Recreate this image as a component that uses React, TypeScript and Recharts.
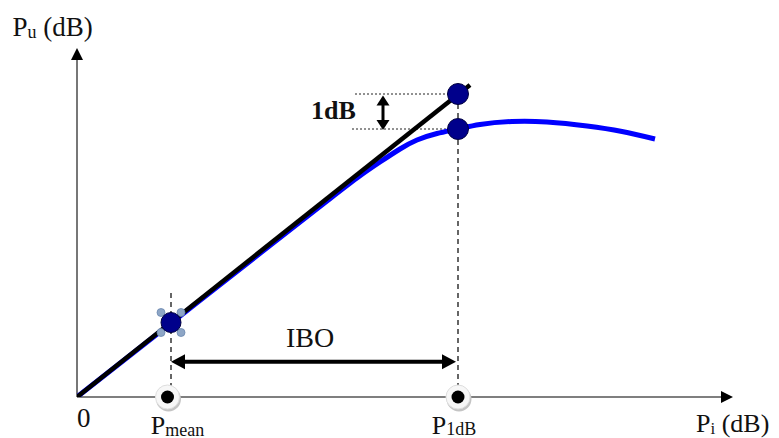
import React from 'react';
import { ComposedChart, Line, XAxis, YAxis, ReferenceLine, ReferenceDot } from 'recharts';

// Blue compression curve (Pi in, Pu out), in the chart's own dB units
const curveX = [0, 10, 20, 25, 28, 30.3, 32.3, 34, 36, 38.1, 40.3, 43.5, 47, 51, 54.5, 57.8];
const curveY = [0, 7.85, 15.7, 19.6, 21.9, 23.5, 24.8, 25.7, 26.35, 26.8, 27.25, 27.55, 27.5, 27.1, 26.55, 25.8];
// Ideal linear gain line
const linearX = [0, 39.3];
const linearY = [0, 31.2];
// Key operating points
const pMeanX = 9.4;
const pMeanY = 7.45;
const p1dBX = 38.1;
const p1dBLinearY = 30.3;
const p1dBActualY = 26.8;
const iboY = 3.53;
const oneDbArrowX = 30.6;
const axisEndX = 65.6;
const axisEndY = 34.9;

const curveData = curveX.map((x, i) => ({ x, y: curveY[i] }));
const linearData = linearX.map((x, i) => ({ x, y: linearY[i] }));

const FONT = '"Liberation Serif", "Times New Roman", serif';
const TXT = '#111';

type Dir = 'up' | 'down' | 'left' | 'right';
const arrowHead = (dir: Dir, len: number, half: number) => (props: any) => {
  const { cx, cy } = props;
  let pts = '';
  if (dir === 'up') pts = `${cx},${cy} ${cx - half},${cy + len} ${cx + half},${cy + len}`;
  if (dir === 'down') pts = `${cx},${cy} ${cx - half},${cy - len} ${cx + half},${cy - len}`;
  if (dir === 'left') pts = `${cx},${cy} ${cx + len},${cy - half} ${cx + len},${cy + half}`;
  if (dir === 'right') pts = `${cx},${cy} ${cx - len},${cy - half} ${cx - len},${cy + half}`;
  return <polygon points={pts} fill="#000" />;
};

const axisMarker = (props: any) => {
  const { cx, cy } = props;
  return (
    <g>
      <circle cx={cx + 1} cy={cy + 2} r={12.5} fill="#c4c4c4" />
      <circle cx={cx} cy={cy} r={12} fill="#f7f7f7" stroke="#dedede" strokeWidth={1} />
      <circle cx={cx} cy={cy} r={6.5} fill="#000" />
    </g>
  );
};

const selectedDot = (props: any) => {
  const { cx, cy } = props;
  const d = 10;
  const handles = [
    [-d, -d],
    [d, -d],
    [-d, d],
    [d, d],
  ];
  return (
    <g>
      {handles.map(([dx, dy], i) => (
        <circle key={i} cx={cx + dx} cy={cy + dy} r={4} fill="#8ea6c6" stroke="#6b88b0" strokeWidth={0.8} />
      ))}
      <circle cx={cx} cy={cy} r={10} fill="#00008b" stroke="#000040" strokeWidth={1} />
    </g>
  );
};

const navyDot = (props: any) => {
  const { cx, cy } = props;
  return <circle cx={cx} cy={cy} r={10.5} fill="#00008b" stroke="#000040" strokeWidth={1} />;
};

export default function App() {
  return (
    <ComposedChart
      width={771}
      height={430}
      margin={{ top: 39, right: 32, bottom: 41, left: 69 }}
    >
      <XAxis type="number" dataKey="x" domain={[0, 67]} hide allowDataOverflow />
      <YAxis type="number" dataKey="y" domain={[0, 35]} hide allowDataOverflow />

      {/* Axes */}
      <ReferenceLine
        segment={[{ x: 0, y: 0 }, { x: 64.5, y: 0 }]}
        stroke="#555"
        strokeWidth={1.6}
        ifOverflow="visible"
      />
      <ReferenceLine
        segment={[{ x: 0, y: 0 }, { x: 0, y: 33.8 }]}
        stroke="#555"
        strokeWidth={1.6}
        ifOverflow="visible"
      />
      <ReferenceDot x={axisEndX} y={0} r={1} shape={arrowHead('right', 12, 6)} ifOverflow="visible" />
      <ReferenceDot x={0} y={axisEndY} r={1} shape={arrowHead('up', 12, 6)} ifOverflow="visible" />

      {/* Dashed drop lines */}
      <ReferenceLine
        segment={[{ x: pMeanX, y: 0 }, { x: pMeanX, y: 10.8 }]}
        stroke="#000"
        strokeWidth={1.2}
        strokeDasharray="5 4"
        ifOverflow="visible"
      />
      <ReferenceLine
        segment={[{ x: p1dBX, y: 0 }, { x: p1dBX, y: p1dBLinearY }]}
        stroke="#000"
        strokeWidth={1.2}
        strokeDasharray="5 4"
        ifOverflow="visible"
      />
      {/* Dotted 1dB guides */}
      <ReferenceLine
        segment={[{ x: 27.8, y: p1dBLinearY }, { x: p1dBX, y: p1dBLinearY }]}
        stroke="#222"
        strokeWidth={1}
        strokeDasharray="2 2"
        ifOverflow="visible"
      />
      <ReferenceLine
        segment={[{ x: 27.5, y: p1dBActualY }, { x: p1dBX, y: p1dBActualY }]}
        stroke="#222"
        strokeWidth={1}
        strokeDasharray="2 2"
        ifOverflow="visible"
      />

      {/* 1dB double arrow */}
      <ReferenceLine
        segment={[{ x: oneDbArrowX, y: 27.5 }, { x: oneDbArrowX, y: 29.5 }]}
        stroke="#000"
        strokeWidth={3}
        ifOverflow="visible"
      />
      <ReferenceDot x={oneDbArrowX} y={30.15} r={1} shape={arrowHead('up', 10, 6.5)} ifOverflow="visible" />
      <ReferenceDot x={oneDbArrowX} y={26.7} r={1} shape={arrowHead('down', 10, 6.5)} ifOverflow="visible" />

      {/* IBO double arrow */}
      <ReferenceLine
        segment={[{ x: pMeanX + 1.2, y: iboY }, { x: 37.9 - 1.2, y: iboY }]}
        stroke="#000"
        strokeWidth={4}
        ifOverflow="visible"
      />
      <ReferenceDot x={pMeanX} y={iboY} r={1} shape={arrowHead('left', 14, 7.5)} ifOverflow="visible" />
      <ReferenceDot x={37.9} y={iboY} r={1} shape={arrowHead('right', 14, 7.5)} ifOverflow="visible" />

      {/* Curves */}
      <Line
        data={curveData}
        dataKey="y"
        type="natural"
        stroke="#0000ff"
        strokeWidth={5}
        dot={false}
        activeDot={false}
        isAnimationActive={false}
      />
      <Line
        data={linearData}
        dataKey="y"
        type="linear"
        stroke="#000"
        strokeWidth={4.5}
        dot={false}
        activeDot={false}
        isAnimationActive={false}
      />

      {/* Points */}
      <ReferenceDot x={9.05} y={0} r={1} shape={axisMarker} ifOverflow="visible" />
      <ReferenceDot x={p1dBX} y={0} r={1} shape={axisMarker} ifOverflow="visible" />
      <ReferenceDot x={pMeanX} y={pMeanY} r={10} shape={selectedDot} ifOverflow="visible" />
      <ReferenceDot x={p1dBX} y={p1dBLinearY} r={10} shape={navyDot} ifOverflow="visible" />
      <ReferenceDot x={p1dBX} y={p1dBActualY} r={10} shape={navyDot} ifOverflow="visible" />

      {/* Text */}
      <text x={4.5} y={27.7} fontFamily={FONT} fontSize={27} fill={TXT}>
        P<tspan fontSize={18} dy={2}>u</tspan>
        <tspan dy={-2}> (dB)</tspan>
      </text>
      <text x={69} y={419} fontFamily={FONT} fontSize={27} fill={TXT}>
        0
      </text>
      <text x={142.7} y={425.5} fontFamily={FONT} fontSize={26} fill={TXT}>
        P<tspan fontSize={18} dy={2}>mean</tspan>
      </text>
      <text x={423.7} y={425.5} fontFamily={FONT} fontSize={26} fill={TXT}>
        P<tspan fontSize={18} dy={1.5}>1dB</tspan>
      </text>
      <text x={688} y={424} fontFamily={FONT} fontSize={26} fill={TXT}>
        P<tspan fontSize={17} dy={1.5}>i</tspan>
        <tspan dy={-1.5}> (dB)</tspan>
      </text>
      <text x={303} y={111.3} fontFamily={FONT} fontSize={26} fontWeight="bold" fill={TXT}>
        1dB
      </text>
      <text x={278} y={339.3} fontFamily={FONT} fontSize={28} fill={TXT}>
        IBO
      </text>
    </ComposedChart>
  );
}
